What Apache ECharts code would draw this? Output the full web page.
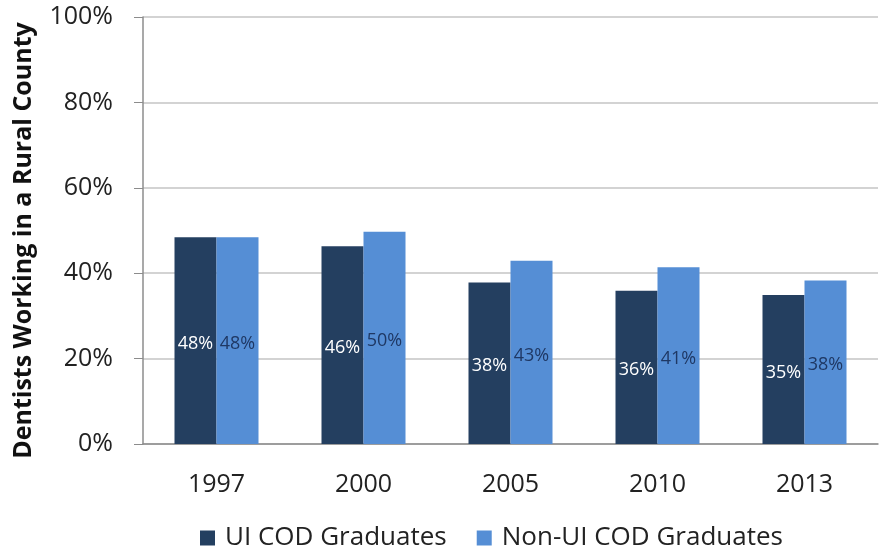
<!DOCTYPE html>
<html><head><meta charset="utf-8">
<script src="https://cdn.jsdelivr.net/npm/echarts@6/dist/echarts.min.js"></script>
<style>html,body{margin:0;padding:0;background:#fff}#c{width:880px;height:551px}</style>
</head><body><div id="c"></div>
<script>
var categories = ['1997', '2000', '2005', '2010', '2013'];
var uiCod = [48.4, 46.3, 37.8, 35.9, 34.9];
var nonUiCod = [48.4, 49.7, 42.9, 41.4, 38.3];
var seriesNames = ['UI COD Graduates', 'Non-UI COD Graduates'];
var yTicks = [0, 20, 40, 60, 80, 100];

var font = '"Open Sans", "Noto Sans", sans-serif';
var chart = echarts.init(document.getElementById('c'));
chart.setOption({
  animation: false,
  textStyle: { fontFamily: font },
  grid: { left: 143, right: 2, top: 17, bottom: 107, containLabel: false, outerBoundsMode: 'none' },
  legend: {
    top: 520, left: 195, itemWidth: 15, itemHeight: 15, itemGap: 30,
    icon: 'rect',
    textStyle: { fontSize: 26, color: '#222', fontFamily: font, padding: [0, 0, 0, 5] },
    data: seriesNames
  },
  xAxis: {
    type: 'category', data: categories,
    axisLine: { lineStyle: { color: '#8c8c8c', width: 1.5 } },
    axisTick: { show: false },
    axisLabel: { fontSize: 25, color: '#222', margin: 28 }
  },
  yAxis: {
    type: 'value', min: yTicks[0], max: yTicks[yTicks.length - 1], interval: 20,
    name: 'Dentists Working in a Rural County', nameLocation: 'middle', nameGap: 107,
    nameTextStyle: { fontSize: 25, fontWeight: 'bold', color: '#111', padding: [0, 20, 0, 0] },
    axisLine: { show: true, lineStyle: { color: '#8c8c8c', width: 1.5 } },
    axisTick: { show: true, length: 9, lineStyle: { color: '#8c8c8c' } },
    splitLine: { lineStyle: { color: '#c4c4c4', width: 1.5 } },
    axisLabel: { fontSize: 25, color: '#222', margin: 30, formatter: '{value}%' }
  },
  series: [
    {
      name: seriesNames[0], type: 'bar', data: uiCod, barWidth: 42, barGap: '0%',
      itemStyle: { color: '#243F60' },
      label: { show: true, position: 'inside', offset: [0, 3], color: '#fff', fontSize: 18,
        formatter: function (p) { return Math.round(p.value) + '%'; } }
    },
    {
      name: seriesNames[1], type: 'bar', data: nonUiCod, barWidth: 42, barGap: '0%',
      itemStyle: { color: '#558ED5' },
      label: { show: true, position: 'inside', offset: [0, 3], color: '#1F3864', fontSize: 18,
        formatter: function (p) { return Math.round(p.value) + '%'; } }
    }
  ]
});
</script></body></html>
